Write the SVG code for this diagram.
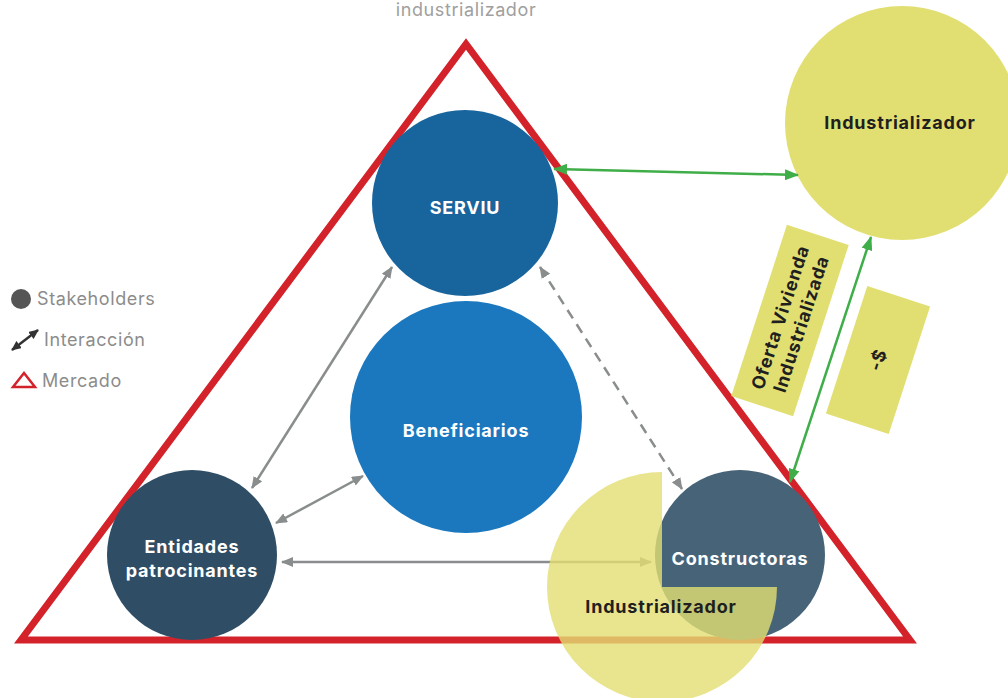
<svg xmlns="http://www.w3.org/2000/svg" width="1008" height="698" viewBox="0 0 1008 698">
  <style>
    .lbl { font-family: Inter, "Liberation Sans", sans-serif; font-weight: 700; font-size: 18px; letter-spacing: 0.8px; fill: #ffffff; text-anchor: middle; }
    .dark { fill: #1f1f1f; }
    .legend { font-family: Inter, "Liberation Sans", sans-serif; font-size: 18px; letter-spacing: 0.6px; fill: #8c8c8c; }
    .gray { stroke: #8a8d8d; stroke-width: 2.5; fill: none; marker-start: url(#ag); marker-end: url(#ag); }
    .green { stroke: #3fae49; stroke-width: 2.5; fill: none; marker-start: url(#agr); marker-end: url(#agr); }
    .yellow { fill: #e2df72; }
  </style>
  <defs>
    <marker id="ag" viewBox="0 0 12 10" refX="11" refY="5" markerWidth="12" markerHeight="10" markerUnits="userSpaceOnUse" orient="auto-start-reverse">
      <path d="M0,0 L12,5 L0,10 z" fill="#8a8d8d"/>
    </marker>
    <marker id="agr" viewBox="0 0 14 11" refX="13" refY="5.5" markerWidth="14" markerHeight="11" markerUnits="userSpaceOnUse" orient="auto-start-reverse">
      <path d="M0,0 L14,5.5 L0,11 z" fill="#3fae49"/>
    </marker>
    <marker id="al" viewBox="0 0 10 9" refX="9" refY="4.5" markerWidth="10" markerHeight="9" markerUnits="userSpaceOnUse" orient="auto-start-reverse">
      <path d="M0,0 L10,4.5 L0,9 z" fill="#333333"/>
    </marker>
  </defs>

  <!-- title above the market triangle -->
  <text x="466" y="16" class="legend" text-anchor="middle" style="fill:#a0a0a0">industrializador</text>

  <!-- market triangle -->
  <g id="mercado">
    <polygon points="466,44 910,640 21,640" fill="none" stroke="#d3222a" stroke-width="7" stroke-linejoin="miter"/>
  </g>

  <!-- legend -->
  <g id="legend">
    <circle cx="21" cy="299" r="10" fill="#555555"/>
    <text x="37" y="305" class="legend">Stakeholders</text>
    <line x1="12" y1="350" x2="38" y2="330" stroke="#333333" stroke-width="2.5" marker-start="url(#al)" marker-end="url(#al)"/>
    <text x="44" y="346" class="legend">Interacción</text>
    <polygon points="24,373 35,387 13,387" fill="none" stroke="#d3222a" stroke-width="2.5"/>
    <text x="42" y="387" class="legend">Mercado</text>
  </g>

  <!-- stakeholders -->
  <g id="serviu">
    <circle cx="465" cy="203" r="93" fill="#18649d"/>
    <text x="465" y="214" class="lbl">SERVIU</text>
  </g>
  <g id="beneficiarios">
    <circle cx="466" cy="417" r="116" fill="#1b78be"/>
    <text x="466" y="437" class="lbl">Beneficiarios</text>
  </g>
  <g id="entidades">
    <circle cx="192" cy="555" r="85" fill="#2f4e66"/>
    <text x="192" y="553" class="lbl">Entidades</text>
    <text x="192" y="577" class="lbl">patrocinantes</text>
  </g>
  <g id="constructoras">
    <circle cx="740" cy="555" r="85" fill="#476377"/>
    <text x="740" y="565" class="lbl">Constructoras</text>
  </g>
  <g id="industrializador-externo">
    <circle cx="902" cy="123" r="117" class="yellow"/>
    <text x="900" y="129" class="lbl dark">Industrializador</text>
  </g>

  <!-- flow labels -->
  <g id="oferta">
    <g transform="translate(790,320.5) rotate(-72)">
      <rect x="-90" y="-32.5" width="180" height="65" class="yellow"/>
      <text x="0" y="-4" class="lbl dark">Oferta Vivienda</text>
      <text x="0" y="18" class="lbl dark">Industrializada</text>
    </g>
  </g>
  <g id="pago">
    <g transform="translate(878,360) rotate(-72)">
      <rect x="-67" y="-33" width="134" height="66" class="yellow"/>
      <text x="0" y="6" class="lbl dark">-$</text>
    </g>
  </g>

  <!-- interactions -->
  <g id="connectors">
    <line x1="392" y1="267" x2="252" y2="488" class="gray"/>
    <line x1="363" y1="476" x2="276" y2="523" class="gray"/>
    <line x1="282" y1="562" x2="651" y2="562" class="gray"/>
    <line x1="540" y1="267" x2="682" y2="489" class="gray" stroke-dasharray="10 7"/>
    <line x1="554" y1="169" x2="798" y2="175" class="green"/>
    <line x1="871" y1="237" x2="790" y2="482" class="green"/>
  </g>

  <!-- industrializer embedded with the builders -->
  <g id="industrializador-integrado">
    <path d="M662,587 L662,472 A115,115 0 1,0 777,587 Z" class="yellow" opacity="0.8"/>
    <text x="661" y="613" class="lbl dark">Industrializador</text>
  </g>
</svg>
